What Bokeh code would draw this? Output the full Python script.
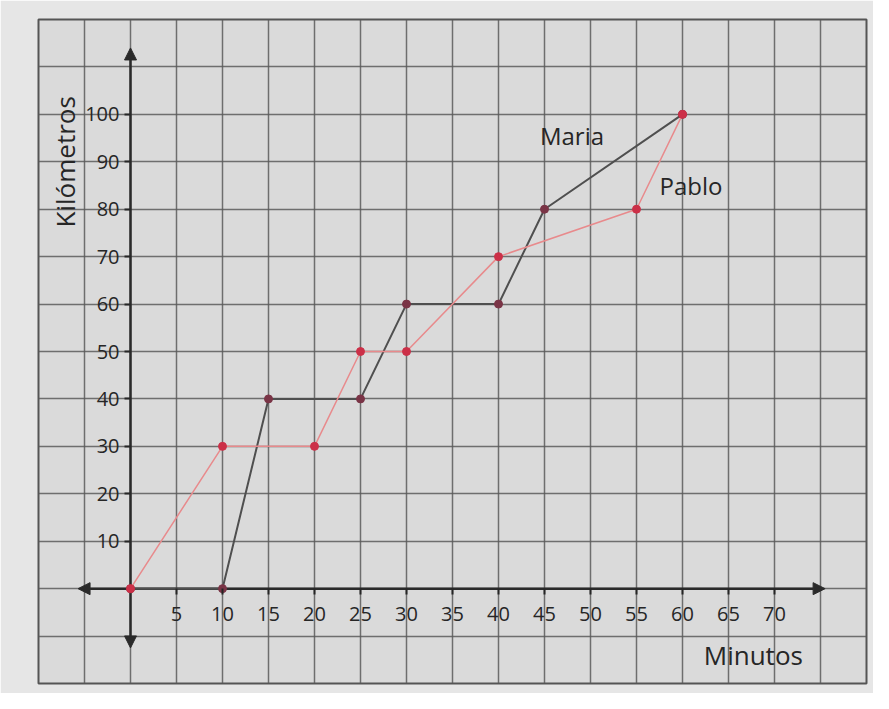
import math
from bokeh.plotting import figure
from bokeh.models import Range1d, LinearAxis, FixedTicker, Arrow, NormalHead, Label, Grid
from bokeh.embed import file_html
from bokeh.resources import INLINE

# Data
minutes_maria = [0, 10, 15, 25, 30, 40, 45, 60]
km_maria = [0, 0, 40, 40, 60, 60, 80, 100]
minutes_pablo = [0, 10, 20, 25, 30, 40, 55, 60]
km_pablo = [0, 30, 30, 50, 50, 70, 80, 100]

x_ticks = [5, 10, 15, 20, 25, 30, 35, 40, 45, 50, 55, 60, 65, 70]
y_ticks = [10, 20, 30, 40, 50, 60, 70, 80, 90, 100]
grid_x = list(range(-10, 81, 5))
grid_y = list(range(-20, 121, 10))

FONT = "Open Sans"
INK = "#262626"

p = figure(width=873, height=693, x_range=Range1d(-10, 80), y_range=Range1d(-20, 120),
           output_backend="svg", toolbar_location=None,
           x_axis_type=None, y_axis_type=None,
           min_border_left=38, min_border_right=7, min_border_top=19, min_border_bottom=10)
p.background_fill_color = "#dadada"
p.border_fill_color = "#e6e6e6"
p.outline_line_color = "#555555"
p.outline_line_width = 2

for dim, ticks in ((0, grid_x), (1, grid_y)):
    g = Grid(dimension=dim, ticker=FixedTicker(ticks=ticks),
             grid_line_color="#5a5a5a", grid_line_width=1.5, grid_line_alpha=0.85)
    p.add_layout(g)

xaxis = LinearAxis(ticker=FixedTicker(ticks=x_ticks), fixed_location=0,
                   axis_line_color=None, major_tick_in=0, major_tick_out=6,
                   major_tick_line_color=INK, major_tick_line_width=2,
                   minor_tick_line_color=None,
                   major_label_text_font=FONT, major_label_text_font_size="20px",
                   major_label_text_color=INK, major_label_standoff=12)
p.add_layout(xaxis, "below")

yaxis = LinearAxis(ticker=FixedTicker(ticks=y_ticks), fixed_location=0,
                   axis_line_color=None, major_tick_in=0, major_tick_out=6,
                   major_tick_line_color=INK, major_tick_line_width=2,
                   minor_tick_line_color=None,
                   major_label_text_font=FONT, major_label_text_font_size="20px",
                   major_label_text_color=INK, major_label_standoff=5)
p.add_layout(yaxis, "left")

def head():
    return NormalHead(size=12, fill_color="#2a2a2a", line_color="#2a2a2a", line_width=1)

p.add_layout(Arrow(x_start=-5.7, y_start=0, x_end=75.5, y_end=0, start=head(), end=head(),
                   line_color="#2a2a2a", line_width=2.5, level="underlay"))
p.add_layout(Arrow(x_start=0, y_start=-12.5, x_end=0, y_end=114, start=head(), end=head(),
                   line_color="#2a2a2a", line_width=2.5, level="underlay"))

p.line(minutes_maria, km_maria, line_color="#4f4f4f", line_width=2)
p.scatter(minutes_maria, km_maria, size=8, fill_color="#7a3446", line_color="#7a3446")
p.line(minutes_pablo, km_pablo, line_color="#e88a8c", line_width=1.5)
p.scatter(minutes_pablo, km_pablo, size=8, fill_color="#cc3048", line_color="#cc3048")

p.add_layout(Label(x=44.5, y=95.5, text="Maria", text_align="left", text_baseline="middle",
                   text_font=FONT, text_font_size="24px", text_color=INK))
p.add_layout(Label(x=57.5, y=85, text="Pablo", text_align="left", text_baseline="middle",
                   text_font=FONT, text_font_size="24px", text_color=INK))
p.add_layout(Label(x=67.7, y=-14, text="Minutos", text_align="center", text_baseline="middle",
                   text_font=FONT, text_font_size="26px", text_color=INK))
p.add_layout(Label(x=-7.1, y=90, text="Kilómetros", text_align="center", text_baseline="middle",
                   angle=math.pi / 2, text_font=FONT, text_font_size="26px", text_color=INK))

open("out.html", "w").write(file_html(p, INLINE))
